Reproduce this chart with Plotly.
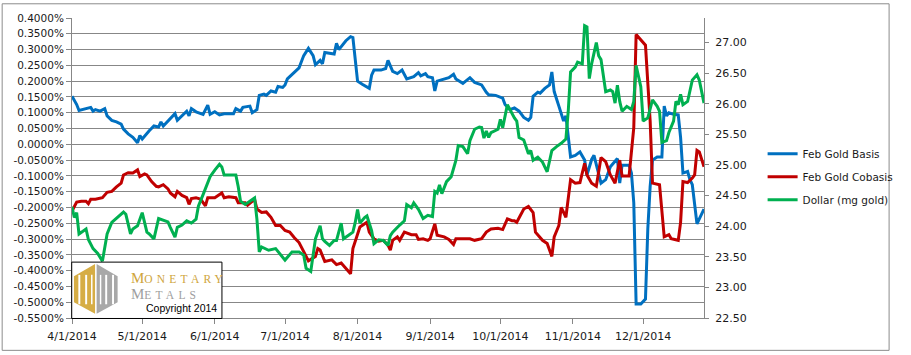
import pandas as pd
import plotly.graph_objects as go

# ---------------- data ----------------
START = "2014-04-01"   # day offsets below are counted from this date

basis_day = [0, 2, 3, 6, 8, 9, 10, 12, 14, 15,
             17, 19, 21, 22, 24, 26, 28, 29, 30, 33,
             35, 37, 38, 39, 41, 44, 45, 47, 49, 50,
             51, 53, 56, 58, 59, 61, 63, 65, 69, 70,
             72, 73, 76, 77, 79, 80, 82, 83, 85, 87,
             88, 90, 91, 92, 95, 97, 99, 101, 103, 104,
             106, 107, 108, 111, 112, 113, 114, 117, 119, 120,
             121, 122, 124, 127, 128, 129, 132, 134, 135, 137,
             139, 141, 143, 146, 148, 149, 151, 152, 154, 155,
             156, 159, 161, 163, 164, 167, 170, 172, 175, 177,
             178, 181, 184, 185, 187, 189, 191, 193, 195, 196,
             197, 199, 200, 202, 204, 205, 206, 208, 210, 211,
             213, 215, 217, 219, 220, 222, 223, 226, 228, 230,
             233, 234, 235, 238, 239, 240, 241, 243, 245, 246,
             247, 248, 250, 252, 253, 254, 255, 257, 259, 260,
             261, 263, 264, 265, 267, 268, 270]
basis_pct = [0.152, 0.126, 0.107, 0.113, 0.117, 0.105, 0.110, 0.105, 0.113, 0.090,
             0.076, 0.071, 0.064, 0.048, 0.033, 0.022, 0.005, 0.028, 0.017, 0.043,
             0.058, 0.055, 0.071, 0.058, 0.074, 0.097, 0.076, 0.090, 0.105, 0.090,
             0.113, 0.103, 0.095, 0.124, 0.095, 0.103, 0.093, 0.097, 0.097, 0.113,
             0.105, 0.117, 0.121, 0.100, 0.110, 0.155, 0.159, 0.155, 0.169, 0.165,
             0.183, 0.180, 0.188, 0.207, 0.229, 0.242, 0.281, 0.304, 0.281, 0.252,
             0.266, 0.255, 0.291, 0.289, 0.286, 0.320, 0.300, 0.328, 0.341, 0.338,
             0.260, 0.200, 0.190, 0.177, 0.219, 0.235, 0.235, 0.240, 0.266, 0.231,
             0.224, 0.235, 0.207, 0.214, 0.227, 0.217, 0.224, 0.214, 0.211, 0.169,
             0.200, 0.207, 0.211, 0.222, 0.207, 0.193, 0.211, 0.196, 0.188, 0.165,
             0.157, 0.155, 0.146, 0.126, 0.110, 0.115, 0.105, 0.085, 0.076, 0.085,
             0.152, 0.165, 0.162, 0.177, 0.188, 0.229, 0.167, 0.121, 0.074, 0.090,
             -0.040, -0.035, -0.024, -0.050, -0.097, -0.048, -0.035, -0.123, -0.112, -0.071,
             -0.045, -0.123, -0.066, -0.066, -0.091, -0.185, -0.506, -0.506, -0.490, -0.267,
             -0.133, -0.050, -0.040, -0.040, 0.121, 0.090, 0.100, 0.095, 0.093, 0.022,
             -0.091, -0.086, -0.112, -0.128, -0.252, -0.236, -0.205]

cobasis_day = [0, 2, 4, 6, 7, 8, 10, 13, 15, 17,
               19, 21, 22, 24, 26, 28, 29, 31, 32, 34,
               36, 37, 39, 41, 42, 44, 45, 47, 49, 50,
               51, 53, 55, 57, 58, 61, 64, 65, 67, 70,
               71, 74, 75, 78, 79, 81, 83, 85, 87, 89,
               91, 93, 95, 97, 99, 101, 104, 105, 106, 108,
               111, 113, 115, 117, 119, 120, 122, 123, 126, 127,
               129, 131, 133, 135, 136, 137, 139, 140, 142, 145,
               147, 148, 150, 152, 153, 155, 156, 159, 161, 163,
               164, 167, 170, 172, 175, 177, 179, 182, 184, 186,
               188, 189, 190, 193, 195, 197, 198, 201, 203, 205,
               206, 208, 209, 211, 213, 215, 217, 219, 220, 222,
               224, 226, 228, 230, 232, 234, 235, 238, 240, 241,
               245, 247, 248, 251, 253, 255, 256, 259, 260, 261,
               263, 265, 266, 267, 268, 270]
cobasis_pct = [-0.211, -0.183, -0.180, -0.180, -0.188, -0.174, -0.174, -0.169, -0.152, -0.149,
               -0.135, -0.123, -0.097, -0.090, -0.091, -0.081, -0.102, -0.094, -0.097, -0.118,
               -0.133, -0.135, -0.128, -0.141, -0.154, -0.166, -0.149, -0.162, -0.169, -0.190,
               -0.172, -0.169, -0.174, -0.195, -0.169, -0.169, -0.154, -0.169, -0.166, -0.169,
               -0.185, -0.185, -0.193, -0.174, -0.205, -0.216, -0.214, -0.231, -0.257, -0.257,
               -0.273, -0.278, -0.296, -0.311, -0.340, -0.369, -0.355, -0.330, -0.335, -0.371,
               -0.366, -0.381, -0.376, -0.392, -0.410, -0.330, -0.288, -0.262, -0.247, -0.278,
               -0.299, -0.307, -0.304, -0.319, -0.335, -0.304, -0.293, -0.304, -0.278, -0.286,
               -0.286, -0.301, -0.299, -0.304, -0.299, -0.252, -0.288, -0.293, -0.301, -0.317,
               -0.299, -0.299, -0.299, -0.304, -0.299, -0.278, -0.268, -0.266, -0.270, -0.236,
               -0.242, -0.242, -0.247, -0.205, -0.197, -0.216, -0.278, -0.304, -0.314, -0.355,
               -0.293, -0.257, -0.200, -0.231, -0.112, -0.123, -0.121, -0.060, -0.097, -0.123,
               -0.133, -0.042, -0.055, -0.097, -0.123, -0.050, -0.100, -0.100, 0.053, 0.348,
               0.314, 0.074, -0.123, -0.128, -0.293, -0.286, -0.299, -0.304, -0.247, -0.118,
               -0.121, -0.107, -0.097, -0.019, -0.024, -0.071]

dollar_day = [0, 1, 2, 3, 6, 7, 9, 11, 13, 15,
              17, 19, 22, 23, 25, 26, 28, 30, 32, 33,
              35, 37, 38, 41, 42, 44, 45, 47, 49, 51,
              53, 54, 56, 58, 59, 61, 63, 64, 65, 67,
              70, 71, 72, 74, 76, 78, 79, 80, 81, 84,
              87, 89, 91, 94, 97, 99, 100, 102, 103, 104,
              106, 107, 108, 110, 112, 113, 115, 116, 118, 120,
              121, 122, 123, 125, 126, 128, 129, 131, 133, 135,
              136, 137, 140, 142, 143, 145, 146, 148, 150, 152,
              154, 155, 156, 157, 158, 160, 162, 164, 165, 167,
              169, 170, 172, 174, 175, 176, 177, 178, 179, 182,
              183, 184, 186, 187, 189, 190, 191, 193, 195, 196,
              197, 199, 201, 203, 205, 207, 209, 211, 212, 213,
              215, 216, 218, 219, 220, 221, 222, 224, 225, 226,
              228, 230, 231, 232, 233, 234, 235, 237, 239, 240,
              241, 243, 244, 246, 248, 250, 251, 252, 254, 255,
              257, 258, 259, 260, 261, 263, 265, 267, 268, 270]
dollar_mg = [24.317, 24.141, 24.221, 23.873, 23.954, 23.782, 23.633, 23.553, 23.429, 23.873,
             24.061, 24.125, 24.231, 24.194, 23.873, 23.954, 24.006, 24.221, 23.901, 23.873,
             23.793, 24.125, 24.114, 24.071, 23.981, 23.821, 23.981, 24.018, 24.087, 24.050,
             24.114, 24.327, 24.515, 24.702, 24.808, 24.915, 25.011, 24.968, 24.835, 24.835,
             24.835, 24.647, 24.407, 24.354, 24.407, 24.461, 24.114, 23.580, 23.660, 23.606,
             23.633, 23.537, 23.446, 23.580, 23.580, 23.526, 23.312, 23.260, 23.553, 23.793,
             24.006, 23.793, 23.750, 23.686, 23.766, 23.766, 24.050, 23.793, 23.846, 23.901,
             24.061, 24.274, 24.050, 24.141, 24.167, 23.926, 23.713, 23.777, 23.766, 23.686,
             23.846, 23.901, 24.018, 24.087, 24.354, 24.301, 24.381, 24.274, 24.125, 24.178,
             24.157, 24.567, 24.541, 24.675, 24.530, 24.727, 24.808, 25.075, 25.316, 25.300,
             25.182, 25.396, 25.583, 25.620, 25.610, 25.439, 25.556, 25.449, 25.529, 25.583,
             25.744, 25.609, 25.984, 25.904, 25.769, 25.716, 25.449, 25.407, 25.182, 25.236,
             25.075, 25.128, 25.048, 24.888, 25.236, 25.300, 25.353, 25.423, 25.877, 26.518,
             26.598, 26.678, 26.650, 27.276, 27.255, 26.410, 26.651, 26.998, 26.785, 26.720,
             26.197, 26.224, 26.197, 26.010, 26.304, 26.037, 25.877, 25.957, 25.904, 26.037,
             26.625, 26.277, 25.716, 25.769, 26.064, 25.957, 25.877, 25.369, 25.396, 25.529,
             25.716, 26.037, 25.984, 26.154, 25.984, 26.037, 26.385, 26.474, 26.385, 26.010]

month_ticks = ["2014-04-01", "2014-05-01", "2014-06-01", "2014-07-01", "2014-08-01",
               "2014-09-01", "2014-10-01", "2014-11-01", "2014-12-01"]
month_labels = ["4/1/2014", "5/1/2014", "6/1/2014", "7/1/2014", "8/1/2014",
                "9/1/2014", "10/1/2014", "11/1/2014", "12/1/2014"]
left_ticks = [0.40 - 0.05 * i for i in range(20)]
right_ticks = [22.5 + 0.5 * i for i in range(10)]

series_names = ["Feb Gold Basis", "Feb Gold Cobasis", "Dollar (mg gold)"]
series_colors = ["#0070C0", "#C00000", "#00B050"]


def to_dates(days):
    return pd.Timestamp(START) + pd.to_timedelta(days, unit="D")


# ---------------- figure ----------------
W, H = 911, 355
ML, MR, MT, MB = 72, 192, 15, 34
PW, PH = W - ML - MR, H - MT - MB


def px(x):
    return (x - ML) / PW


def py(y):
    return (H - MB - y) / PH


GRID = "#878787"
TXT = "#1a1a1a"
FONT = "DejaVu Sans"

fig = go.Figure()
fig.add_trace(go.Scatter(x=to_dates(basis_day), y=basis_pct, name=series_names[0],
                         mode="lines", line=dict(color=series_colors[0], width=3),
                         legendgroup="a"))
fig.add_trace(go.Scatter(x=to_dates(cobasis_day), y=cobasis_pct, name=series_names[1],
                         mode="lines", line=dict(color=series_colors[1], width=3),
                         legendgroup="b"))
fig.add_trace(go.Scatter(x=to_dates(dollar_day), y=dollar_mg, name=series_names[2],
                         mode="lines", line=dict(color=series_colors[2], width=3),
                         legendgroup="c", yaxis="y2"))

fig.update_layout(
    width=W, height=H,
    margin=dict(l=ML, r=MR, t=MT, b=MB),
    paper_bgcolor="white", plot_bgcolor="white",
    font=dict(family=FONT, size=11, color=TXT),
    xaxis=dict(
        type="date", range=["2014-04-01", "2014-12-27"],
        tickvals=month_ticks, ticktext=month_labels,
        showgrid=False, zeroline=False,
        showline=True, linecolor=GRID, linewidth=1,
        ticks="outside", ticklen=5, tickcolor=GRID,
        ticklabelstandoff=3,
        tickfont=dict(family=FONT, size=11, color=TXT),
    ),
    yaxis=dict(
        range=[-0.55, 0.40],
        tickvals=left_ticks,
        ticktext=[("%.4f%%" % (round(v, 4) + 0.0)).replace("-0.0000", "0.0000") for v in left_ticks],
        showgrid=True, gridcolor=GRID, gridwidth=1,
        zeroline=False,
        showline=True, linecolor=GRID, linewidth=1,
        ticks="outside", ticklen=5, tickcolor=GRID,
        tickfont=dict(family=FONT, size=10.5, color=TXT),
    ),
    yaxis2=dict(
        overlaying="y", side="right",
        range=[22.5, 27.4],
        tickvals=right_ticks,
        ticktext=["%.2f" % v for v in right_ticks],
        showgrid=False, zeroline=False,
        showline=True, linecolor=GRID, linewidth=1,
        ticks="outside", ticklen=4, tickcolor=GRID,
        ticklabelstandoff=4,
        tickfont=dict(family=FONT, size=11, color=TXT),
    ),
    showlegend=True,
    legend=dict(
        x=px(779), y=py(177), xanchor="left", yanchor="middle",
        font=dict(family=FONT, size=10.5, color=TXT),
        bgcolor="rgba(0,0,0,0)", tracegroupgap=4,
        traceorder="grouped",
    ),
)

shapes = []
# chart-area border
shapes.append(dict(type="rect", xref="paper", yref="paper",
                   x0=px(0.5), x1=px(908.5), y0=py(354), y1=py(0.5),
                   line=dict(color="#8c8c8c", width=1), layer="below"))
# logo box
shapes.append(dict(type="rect", xref="paper", yref="paper",
                   x0=px(71.7), x1=px(225.5), y0=py(321.5), y1=py(264),
                   line=dict(color="black", width=1), fillcolor="white", layer="above"))


def path(points):
    s = "M " + " L ".join("%.5f,%.5f" % (px(a), py(b)) for a, b in points) + " Z"
    return s


GOLD = "#D6AD45"
GREY = "#A8A8A8"
# hexagon halves
shapes.append(dict(type="path", xref="paper", yref="paper", layer="above",
                   path=path([(95.6, 266), (74, 278.3), (74, 305), (95.6, 316.7)]),
                   fillcolor=GOLD, line=dict(width=0)))
shapes.append(dict(type="path", xref="paper", yref="paper", layer="above",
                   path=path([(97.2, 266), (118.7, 278.3), (118.7, 305), (97.2, 316.7)]),
                   fillcolor=GREY, line=dict(width=0)))
# white pillar gaps
for (a, b) in [(78.5, 80.5), (85.5, 87.5), (91.5, 93.0), (100.5, 102.0), (106.0, 108.0), (113.0, 115.0)]:
    shapes.append(dict(type="rect", xref="paper", yref="paper", layer="above",
                       x0=px(a), x1=px(b), y0=py(307), y1=py(277),
                       fillcolor="white", line=dict(width=0)))
fig.update_layout(shapes=shapes)

annotations = [
    dict(text="M<span style='font-size:11.5px;letter-spacing:4.2px'>ONETARY</span>",
         x=px(130.5), y=py(290), xref="paper", yref="paper",
         xanchor="left", yanchor="bottom", showarrow=False,
         font=dict(family="Liberation Serif", size=15, color="#CFA53C")),
    dict(text="M<span style='font-size:11.5px;letter-spacing:4.2px'>ETALS</span>",
         x=px(130.5), y=py(306.5), xref="paper", yref="paper",
         xanchor="left", yanchor="bottom", showarrow=False,
         font=dict(family="Liberation Serif", size=15, color="#9E9E9E")),
    dict(text="Copyright 2014",
         x=px(222), y=py(319), xref="paper", yref="paper",
         xanchor="right", yanchor="bottom", showarrow=False,
         font=dict(family="Liberation Sans", size=10.5, color="black")),
]
fig.update_layout(annotations=annotations)

fig.write_html("out.html",
               config={"displayModeBar": False},
               post_script="document.body.style.margin='0';document.body.style.padding='0';")
